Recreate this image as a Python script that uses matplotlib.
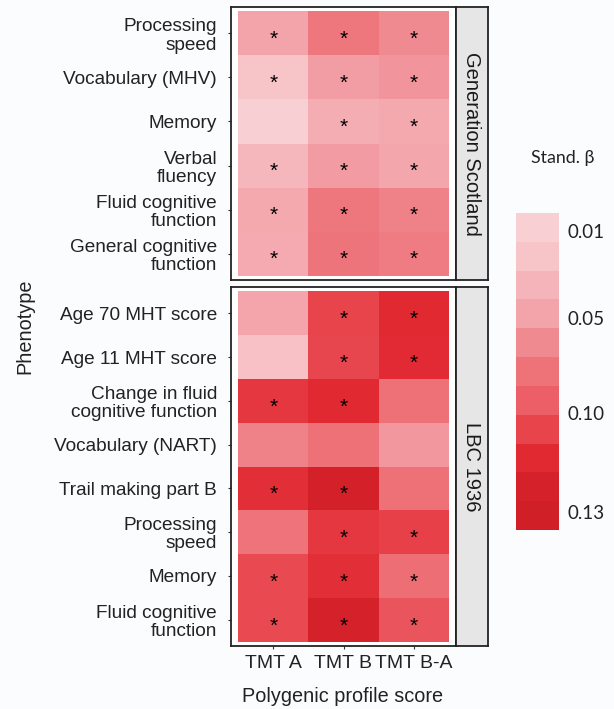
import numpy as np
import matplotlib
matplotlib.use("Agg")
import matplotlib.pyplot as plt
from matplotlib.colors import LinearSegmentedColormap, ListedColormap, FuncNorm
from matplotlib.cm import ScalarMappable

scores = ["TMT A", "TMT B", "TMT B-A"]

gs_rows = ["Processing\nspeed", "Vocabulary (MHV)", "Memory", "Verbal\nfluency",
           "Fluid cognitive\nfunction", "General cognitive\nfunction"]
gs_beta = [
    [0.048, 0.075, 0.063],
    [0.022, 0.052, 0.057],
    [0.009, 0.041, 0.044],
    [0.032, 0.053, 0.046],
    [0.044, 0.075, 0.068],
    [0.043, 0.077, 0.072],
]
gs_sig = [
    [1, 1, 1],
    [1, 1, 1],
    [0, 1, 1],
    [1, 1, 1],
    [1, 1, 1],
    [1, 1, 1],
]

lbc_rows = ["Age 70 MHT score", "Age 11 MHT score", "Change in fluid\ncognitive function",
            "Vocabulary (NART)", "Trail making part B", "Processing\nspeed", "Memory",
            "Fluid cognitive\nfunction"]
lbc_beta = [
    [0.047, 0.105, 0.114],
    [0.024, 0.104, 0.113],
    [0.109, 0.114, 0.080],
    [0.068, 0.080, 0.056],
    [0.112, 0.124, 0.080],
    [0.078, 0.109, 0.106],
    [0.103, 0.112, 0.082],
    [0.103, 0.123, 0.099],
]
lbc_sig = [
    [0, 1, 1],
    [0, 1, 1],
    [1, 1, 0],
    [0, 0, 0],
    [1, 1, 0],
    [0, 1, 1],
    [1, 1, 1],
    [1, 1, 1],
]

# legend: tick values and where they sit along the bar (0 = top, 1 = bottom)
legend_vals = [0.0017, 0.01, 0.05, 0.10, 0.13, 0.1355]
legend_pos = [0.0, 0.057, 0.331, 0.631, 0.943, 1.0]
legend_ticks = [0.01, 0.05, 0.10, 0.13]
legend_labels = ["0.01", "0.05", "0.10", "0.13"]
step_colors = ["#F8D0D3", "#F7C4C8", "#F5B4B9", "#F3A4AA", "#F08A91", "#EE7379",
               "#EC5F67", "#E8444C", "#E12932", "#D5222A", "#D01F27"]

norm = FuncNorm((lambda v: np.interp(v, legend_vals, legend_pos),
                 lambda f: np.interp(f, legend_pos, legend_vals)),
                vmin=legend_vals[0], vmax=legend_vals[-1])
stops = [0.0] + list((np.arange(11) + 0.5) / 11) + [1.0]
cmap = LinearSegmentedColormap.from_list(
    "beta", list(zip(stops, [step_colors[0]] + step_colors + [step_colors[-1]])))
cmap_steps = ListedColormap(step_colors)

bg = "#fbfcfd"
txt = "#222222"
fig = plt.figure(figsize=(6.14, 7.09), dpi=100, facecolor=bg)
W, H = 614, 709


def box(x0, y0, x1, y1):
    return [x0 / W, 1 - y1 / H, (x1 - x0) / W, (y1 - y0) / H]


def panel(rect, rows, beta, sig, strip_rect, strip_label, show_x):
    ax = fig.add_axes(rect)
    n = len(rows)
    ax.pcolormesh(np.arange(4) - 0.5, np.arange(n + 1) - 0.5, np.array(beta),
                  cmap=cmap, norm=norm, shading="flat")
    for i in range(n):
        for j in range(3):
            if sig[i][j]:
                ax.text(j, i + 0.14, "*", ha="center", va="center", fontsize=15,
                        color="black", family="Liberation Sans")
    ax.set_xlim(-0.6, 2.6)
    ax.set_ylim(n - 0.4, -0.6)
    ax.set_facecolor("white")
    ax.set_yticks(range(n))
    ax.set_yticklabels(rows, family="Liberation Sans", fontsize=13.7, color=txt,
                       linespacing=1.1)
    ax.set_xticks(range(3))
    if show_x:
        ax.set_xticklabels(scores, family="Liberation Sans", fontsize=14, color=txt)
        ax.tick_params(axis="x", length=2.5, color="#333333", pad=4)
    else:
        ax.set_xticklabels([])
        ax.tick_params(axis="x", length=0)
    ax.tick_params(axis="y", length=2.5, color="#333333", pad=7.5)
    for s in ax.spines.values():
        s.set_linewidth(1.3)
        s.set_color("#222222")

    sax = fig.add_axes(strip_rect)
    sax.set_facecolor("#e6e6e6")
    sax.set_xticks([])
    sax.set_yticks([])
    for s in sax.spines.values():
        s.set_linewidth(1.3)
        s.set_color("#222222")
    sax.text(0.5, 0.5, strip_label, rotation=270, ha="center", va="center",
             fontsize=14.5, family="Liberation Sans", color="#1a1a1a",
             transform=sax.transAxes)
    return ax


panel(box(231, 7, 456, 280), gs_rows, gs_beta, gs_sig,
      box(456, 7, 488, 280), "Generation Scotland", False)
panel(box(231, 287, 456, 646), lbc_rows, lbc_beta, lbc_sig,
      box(456, 287, 488, 646), "LBC 1936", True)

fig.text(25 / W, 1 - 326 / H, "Phenotype", rotation=90, ha="center", va="center",
         fontsize=14.3, family="Liberation Sans", color=txt)
fig.text(343 / W, 1 - 697 / H, "Polygenic profile score", ha="center", va="center",
         fontsize=14.3, family="Liberation Sans", color=txt)

# stepped legend
cax = fig.add_axes(box(516, 213, 559, 530))
sm = ScalarMappable(norm=norm, cmap=cmap_steps)
cb = fig.colorbar(sm, cax=cax, orientation="vertical")
cb.outline.set_visible(False)
cb.set_ticks(legend_ticks)
cb.set_ticklabels(legend_labels)
cax.invert_yaxis()
cax.minorticks_off()
cax.tick_params(length=0, pad=6, labelsize=13.5)
for t in cax.get_yticklabels():
    t.set_family(["Lato", "DejaVu Sans"])
    t.set_color(txt)
fig.text(531 / W, 1 - 158 / H, "Stand. β", ha="left", va="center", fontsize=12.8,
         family=["Lato", "DejaVu Sans"], color=txt)

fig.savefig("out.png", dpi=100, facecolor=bg)
